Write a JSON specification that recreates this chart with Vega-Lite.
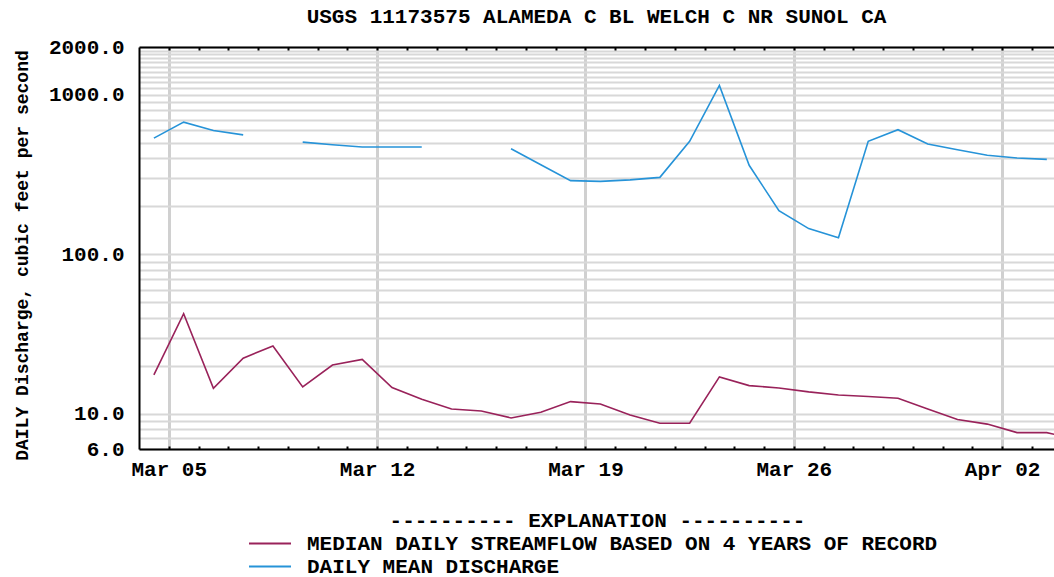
{
  "$schema": "https://vega.github.io/schema/vega-lite/v6.json",
  "width": 915,
  "height": 402,
  "autosize": {"type": "none"},
  "padding": {"left": 139, "top": 47, "right": 0, "bottom": 128},
  "config": {
    "view": {"stroke": null},
    "font": "Liberation Mono",
    "axis": {"labelFont": "Liberation Mono", "labelFontSize": 21, "labelFontWeight": "bold", "labelColor": "black"}
  },
  "title": {
    "text": "USGS 11173575 ALAMEDA C BL WELCH C NR SUNOL CA",
    "font": "Liberation Mono", "fontSize": 21, "fontWeight": "bold", "color": "black",
    "anchor": "middle", "offset": 9
  },
  "data": {"values": [
    {"date": "2023-03-04T12:00:00Z", "series": "MEDIAN DAILY STREAMFLOW BASED ON 4 YEARS OF RECORD", "value": 17.5},
    {"date": "2023-03-05T12:00:00Z", "series": "MEDIAN DAILY STREAMFLOW BASED ON 4 YEARS OF RECORD", "value": 42.4},
    {"date": "2023-03-06T12:00:00Z", "series": "MEDIAN DAILY STREAMFLOW BASED ON 4 YEARS OF RECORD", "value": 14.4},
    {"date": "2023-03-07T12:00:00Z", "series": "MEDIAN DAILY STREAMFLOW BASED ON 4 YEARS OF RECORD", "value": 22.3},
    {"date": "2023-03-08T12:00:00Z", "series": "MEDIAN DAILY STREAMFLOW BASED ON 4 YEARS OF RECORD", "value": 26.6},
    {"date": "2023-03-09T12:00:00Z", "series": "MEDIAN DAILY STREAMFLOW BASED ON 4 YEARS OF RECORD", "value": 14.7},
    {"date": "2023-03-10T12:00:00Z", "series": "MEDIAN DAILY STREAMFLOW BASED ON 4 YEARS OF RECORD", "value": 20.2},
    {"date": "2023-03-11T12:00:00Z", "series": "MEDIAN DAILY STREAMFLOW BASED ON 4 YEARS OF RECORD", "value": 21.9},
    {"date": "2023-03-12T12:00:00Z", "series": "MEDIAN DAILY STREAMFLOW BASED ON 4 YEARS OF RECORD", "value": 14.6},
    {"date": "2023-03-13T12:00:00Z", "series": "MEDIAN DAILY STREAMFLOW BASED ON 4 YEARS OF RECORD", "value": 12.3},
    {"date": "2023-03-14T12:00:00Z", "series": "MEDIAN DAILY STREAMFLOW BASED ON 4 YEARS OF RECORD", "value": 10.7},
    {"date": "2023-03-15T12:00:00Z", "series": "MEDIAN DAILY STREAMFLOW BASED ON 4 YEARS OF RECORD", "value": 10.4},
    {"date": "2023-03-16T12:00:00Z", "series": "MEDIAN DAILY STREAMFLOW BASED ON 4 YEARS OF RECORD", "value": 9.4},
    {"date": "2023-03-17T12:00:00Z", "series": "MEDIAN DAILY STREAMFLOW BASED ON 4 YEARS OF RECORD", "value": 10.2},
    {"date": "2023-03-18T12:00:00Z", "series": "MEDIAN DAILY STREAMFLOW BASED ON 4 YEARS OF RECORD", "value": 11.9},
    {"date": "2023-03-19T12:00:00Z", "series": "MEDIAN DAILY STREAMFLOW BASED ON 4 YEARS OF RECORD", "value": 11.5},
    {"date": "2023-03-20T12:00:00Z", "series": "MEDIAN DAILY STREAMFLOW BASED ON 4 YEARS OF RECORD", "value": 9.8},
    {"date": "2023-03-21T12:00:00Z", "series": "MEDIAN DAILY STREAMFLOW BASED ON 4 YEARS OF RECORD", "value": 8.7},
    {"date": "2023-03-22T12:00:00Z", "series": "MEDIAN DAILY STREAMFLOW BASED ON 4 YEARS OF RECORD", "value": 8.7},
    {"date": "2023-03-23T12:00:00Z", "series": "MEDIAN DAILY STREAMFLOW BASED ON 4 YEARS OF RECORD", "value": 17.0},
    {"date": "2023-03-24T12:00:00Z", "series": "MEDIAN DAILY STREAMFLOW BASED ON 4 YEARS OF RECORD", "value": 15.0},
    {"date": "2023-03-25T12:00:00Z", "series": "MEDIAN DAILY STREAMFLOW BASED ON 4 YEARS OF RECORD", "value": 14.5},
    {"date": "2023-03-26T12:00:00Z", "series": "MEDIAN DAILY STREAMFLOW BASED ON 4 YEARS OF RECORD", "value": 13.7},
    {"date": "2023-03-27T12:00:00Z", "series": "MEDIAN DAILY STREAMFLOW BASED ON 4 YEARS OF RECORD", "value": 13.1},
    {"date": "2023-03-28T12:00:00Z", "series": "MEDIAN DAILY STREAMFLOW BASED ON 4 YEARS OF RECORD", "value": 12.8},
    {"date": "2023-03-29T12:00:00Z", "series": "MEDIAN DAILY STREAMFLOW BASED ON 4 YEARS OF RECORD", "value": 12.5},
    {"date": "2023-03-30T12:00:00Z", "series": "MEDIAN DAILY STREAMFLOW BASED ON 4 YEARS OF RECORD", "value": 10.7},
    {"date": "2023-03-31T12:00:00Z", "series": "MEDIAN DAILY STREAMFLOW BASED ON 4 YEARS OF RECORD", "value": 9.2},
    {"date": "2023-04-01T12:00:00Z", "series": "MEDIAN DAILY STREAMFLOW BASED ON 4 YEARS OF RECORD", "value": 8.6},
    {"date": "2023-04-02T12:00:00Z", "series": "MEDIAN DAILY STREAMFLOW BASED ON 4 YEARS OF RECORD", "value": 7.6},
    {"date": "2023-04-03T12:00:00Z", "series": "MEDIAN DAILY STREAMFLOW BASED ON 4 YEARS OF RECORD", "value": 7.6},
    {"date": "2023-04-04T12:00:00Z", "series": "MEDIAN DAILY STREAMFLOW BASED ON 4 YEARS OF RECORD", "value": 6.9},
    {"date": "2023-03-04T12:00:00Z", "series": "DAILY MEAN DISCHARGE", "value": 536},
    {"date": "2023-03-05T12:00:00Z", "series": "DAILY MEAN DISCHARGE", "value": 675},
    {"date": "2023-03-06T12:00:00Z", "series": "DAILY MEAN DISCHARGE", "value": 599},
    {"date": "2023-03-07T12:00:00Z", "series": "DAILY MEAN DISCHARGE", "value": 562},
    {"date": "2023-03-08T12:00:00Z", "series": "DAILY MEAN DISCHARGE", "value": null},
    {"date": "2023-03-09T12:00:00Z", "series": "DAILY MEAN DISCHARGE", "value": 506},
    {"date": "2023-03-10T12:00:00Z", "series": "DAILY MEAN DISCHARGE", "value": 487},
    {"date": "2023-03-11T12:00:00Z", "series": "DAILY MEAN DISCHARGE", "value": 471},
    {"date": "2023-03-12T12:00:00Z", "series": "DAILY MEAN DISCHARGE", "value": 471},
    {"date": "2023-03-13T12:00:00Z", "series": "DAILY MEAN DISCHARGE", "value": 471},
    {"date": "2023-03-14T12:00:00Z", "series": "DAILY MEAN DISCHARGE", "value": null},
    {"date": "2023-03-15T12:00:00Z", "series": "DAILY MEAN DISCHARGE", "value": null},
    {"date": "2023-03-16T12:00:00Z", "series": "DAILY MEAN DISCHARGE", "value": 460},
    {"date": "2023-03-17T12:00:00Z", "series": "DAILY MEAN DISCHARGE", "value": 365},
    {"date": "2023-03-18T12:00:00Z", "series": "DAILY MEAN DISCHARGE", "value": 290},
    {"date": "2023-03-19T12:00:00Z", "series": "DAILY MEAN DISCHARGE", "value": 287},
    {"date": "2023-03-20T12:00:00Z", "series": "DAILY MEAN DISCHARGE", "value": 293},
    {"date": "2023-03-21T12:00:00Z", "series": "DAILY MEAN DISCHARGE", "value": 304},
    {"date": "2023-03-22T12:00:00Z", "series": "DAILY MEAN DISCHARGE", "value": 512},
    {"date": "2023-03-23T12:00:00Z", "series": "DAILY MEAN DISCHARGE", "value": 1147},
    {"date": "2023-03-24T12:00:00Z", "series": "DAILY MEAN DISCHARGE", "value": 362},
    {"date": "2023-03-25T12:00:00Z", "series": "DAILY MEAN DISCHARGE", "value": 188},
    {"date": "2023-03-26T12:00:00Z", "series": "DAILY MEAN DISCHARGE", "value": 145},
    {"date": "2023-03-27T12:00:00Z", "series": "DAILY MEAN DISCHARGE", "value": 127},
    {"date": "2023-03-28T12:00:00Z", "series": "DAILY MEAN DISCHARGE", "value": 512},
    {"date": "2023-03-29T12:00:00Z", "series": "DAILY MEAN DISCHARGE", "value": 605},
    {"date": "2023-03-30T12:00:00Z", "series": "DAILY MEAN DISCHARGE", "value": 492},
    {"date": "2023-03-31T12:00:00Z", "series": "DAILY MEAN DISCHARGE", "value": 453},
    {"date": "2023-04-01T12:00:00Z", "series": "DAILY MEAN DISCHARGE", "value": 418},
    {"date": "2023-04-02T12:00:00Z", "series": "DAILY MEAN DISCHARGE", "value": 402},
    {"date": "2023-04-03T12:00:00Z", "series": "DAILY MEAN DISCHARGE", "value": 394}
  ]},
  "layer": [
    {
      "mark": {"type": "line", "clip": true, "strokeWidth": 1.6, "invalid": "break-paths-show-domains"},
      "encoding": {
        "x": {
          "field": "date", "type": "temporal",
          "scale": {"type": "utc", "domain": [{"year": 2023, "month": 3, "date": 4, "utc": true}, {"year": 2023, "month": 4, "date": 3, "hours": 17, "minutes": 48, "utc": true}]},
          "axis": {
            "orient": "bottom", "title": null, "format": "%b %d",
            "values": [
              {"year": 2023, "month": 3, "date": 5, "utc": true},
              {"year": 2023, "month": 3, "date": 12, "utc": true},
              {"year": 2023, "month": 3, "date": 19, "utc": true},
              {"year": 2023, "month": 3, "date": 26, "utc": true},
              {"year": 2023, "month": 4, "date": 2, "utc": true}
            ],
            "grid": true, "gridColor": "#d0d0d0", "gridWidth": 3,
            "ticks": false, "domainColor": "black", "domainWidth": 2,
            "labelPadding": 9, "labelOverlap": false, "labelFlush": false
          }
        },
        "y": {
          "field": "value", "type": "quantitative",
          "scale": {"type": "log", "domain": [6, 2000], "nice": false},
          "axis": {
            "values": [6, 7, 8, 9, 10, 20, 30, 40, 50, 60, 70, 80, 90, 100, 200, 300, 400, 500, 600, 700, 800, 900, 1000, 1100, 1200, 1300, 1400, 1500, 1600, 1700, 1800, 1900, 2000],
            "labelExpr": "indexof([6, 10, 100, 1000, 2000], datum.value) >= 0 ? format(datum.value, '.1f') : ''",
            "grid": true, "gridColor": "#d8d8d8", "gridWidth": 2,
            "ticks": false, "domainColor": "black", "domainWidth": 2,
            "labelPadding": 15, "labelOverlap": false, "labelBound": false,
            "title": "DAILY Discharge, cubic feet per second",
            "titleFont": "Liberation Mono", "titleFontSize": 18, "titleFontWeight": "bold", "titleColor": "black",
            "titlePadding": 17, "titleY": 208
          }
        },
        "color": {
          "field": "series", "type": "nominal",
          "scale": {"domain": ["MEDIAN DAILY STREAMFLOW BASED ON 4 YEARS OF RECORD", "DAILY MEAN DISCHARGE"], "range": ["#99225a", "#2693d8"]},
          "legend": {
            "orient": "none", "legendX": 119.5, "legendY": 463,
            "title": "----------  EXPLANATION  ----------",
            "titleFont": "Liberation Mono", "titleFontSize": 21, "titleFontWeight": "bold", "titleColor": "black",
            "titleAlign": "center", "titleAnchor": "middle", "titlePadding": 1, "titleLimit": 0,
            "labelFont": "Liberation Mono", "labelFontSize": 21, "labelFontWeight": "bold", "labelColor": "black", "labelLimit": 0,
            "symbolType": "M-2,0H2", "symbolSize": 441, "symbolStrokeWidth": 2, "labelOffset": 25.5,
            "rowPadding": 1, "padding": 0
          }
        }
      }
    },
    {
      "mark": {"type": "point", "opacity": 0, "clip": true},
      "encoding": {
        "x": {
          "field": "date", "type": "temporal",
          "axis": {
            "orient": "bottom", "title": null, "labels": false, "grid": false, "domain": false, "offset": -3,
            "tickSize": 3, "tickWidth": 2, "tickColor": "black",
            "values": [
              {"year": 2023, "month": 3, "date": 5, "utc": true}, {"year": 2023, "month": 3, "date": 6, "utc": true},
              {"year": 2023, "month": 3, "date": 7, "utc": true}, {"year": 2023, "month": 3, "date": 8, "utc": true},
              {"year": 2023, "month": 3, "date": 9, "utc": true}, {"year": 2023, "month": 3, "date": 10, "utc": true},
              {"year": 2023, "month": 3, "date": 11, "utc": true}, {"year": 2023, "month": 3, "date": 12, "utc": true},
              {"year": 2023, "month": 3, "date": 13, "utc": true}, {"year": 2023, "month": 3, "date": 14, "utc": true},
              {"year": 2023, "month": 3, "date": 15, "utc": true}, {"year": 2023, "month": 3, "date": 16, "utc": true},
              {"year": 2023, "month": 3, "date": 17, "utc": true}, {"year": 2023, "month": 3, "date": 18, "utc": true},
              {"year": 2023, "month": 3, "date": 19, "utc": true}, {"year": 2023, "month": 3, "date": 20, "utc": true},
              {"year": 2023, "month": 3, "date": 21, "utc": true}, {"year": 2023, "month": 3, "date": 22, "utc": true},
              {"year": 2023, "month": 3, "date": 23, "utc": true}, {"year": 2023, "month": 3, "date": 24, "utc": true},
              {"year": 2023, "month": 3, "date": 25, "utc": true}, {"year": 2023, "month": 3, "date": 26, "utc": true},
              {"year": 2023, "month": 3, "date": 27, "utc": true}, {"year": 2023, "month": 3, "date": 28, "utc": true},
              {"year": 2023, "month": 3, "date": 29, "utc": true}, {"year": 2023, "month": 3, "date": 30, "utc": true},
              {"year": 2023, "month": 3, "date": 31, "utc": true}, {"year": 2023, "month": 4, "date": 1, "utc": true},
              {"year": 2023, "month": 4, "date": 2, "utc": true}, {"year": 2023, "month": 4, "date": 3, "utc": true}
            ]
          }
        }
      }
    },
    {
      "mark": {"type": "point", "opacity": 0, "clip": true},
      "encoding": {
        "x": {
          "field": "date", "type": "temporal",
          "axis": {
            "orient": "top", "title": null, "labels": false, "grid": false, "domain": false, "offset": -3,
            "tickSize": 3, "tickWidth": 2, "tickColor": "black",
            "values": [
              {"year": 2023, "month": 3, "date": 5, "utc": true}, {"year": 2023, "month": 3, "date": 6, "utc": true},
              {"year": 2023, "month": 3, "date": 7, "utc": true}, {"year": 2023, "month": 3, "date": 8, "utc": true},
              {"year": 2023, "month": 3, "date": 9, "utc": true}, {"year": 2023, "month": 3, "date": 10, "utc": true},
              {"year": 2023, "month": 3, "date": 11, "utc": true}, {"year": 2023, "month": 3, "date": 12, "utc": true},
              {"year": 2023, "month": 3, "date": 13, "utc": true}, {"year": 2023, "month": 3, "date": 14, "utc": true},
              {"year": 2023, "month": 3, "date": 15, "utc": true}, {"year": 2023, "month": 3, "date": 16, "utc": true},
              {"year": 2023, "month": 3, "date": 17, "utc": true}, {"year": 2023, "month": 3, "date": 18, "utc": true},
              {"year": 2023, "month": 3, "date": 19, "utc": true}, {"year": 2023, "month": 3, "date": 20, "utc": true},
              {"year": 2023, "month": 3, "date": 21, "utc": true}, {"year": 2023, "month": 3, "date": 22, "utc": true},
              {"year": 2023, "month": 3, "date": 23, "utc": true}, {"year": 2023, "month": 3, "date": 24, "utc": true},
              {"year": 2023, "month": 3, "date": 25, "utc": true}, {"year": 2023, "month": 3, "date": 26, "utc": true},
              {"year": 2023, "month": 3, "date": 27, "utc": true}, {"year": 2023, "month": 3, "date": 28, "utc": true},
              {"year": 2023, "month": 3, "date": 29, "utc": true}, {"year": 2023, "month": 3, "date": 30, "utc": true},
              {"year": 2023, "month": 3, "date": 31, "utc": true}, {"year": 2023, "month": 4, "date": 1, "utc": true},
              {"year": 2023, "month": 4, "date": 2, "utc": true}, {"year": 2023, "month": 4, "date": 3, "utc": true}
            ]
          }
        }
      }
    },
    {
      "mark": {"type": "point", "opacity": 0, "clip": true},
      "encoding": {
        "x": {
          "field": "date", "type": "temporal",
          "axis": {
            "orient": "top", "title": null, "labels": false, "grid": false, "ticks": false,
            "domain": true, "domainColor": "black", "domainWidth": 2
          }
        }
      }
    }
  ],
  "resolve": {"axis": {"x": "independent"}}
}
